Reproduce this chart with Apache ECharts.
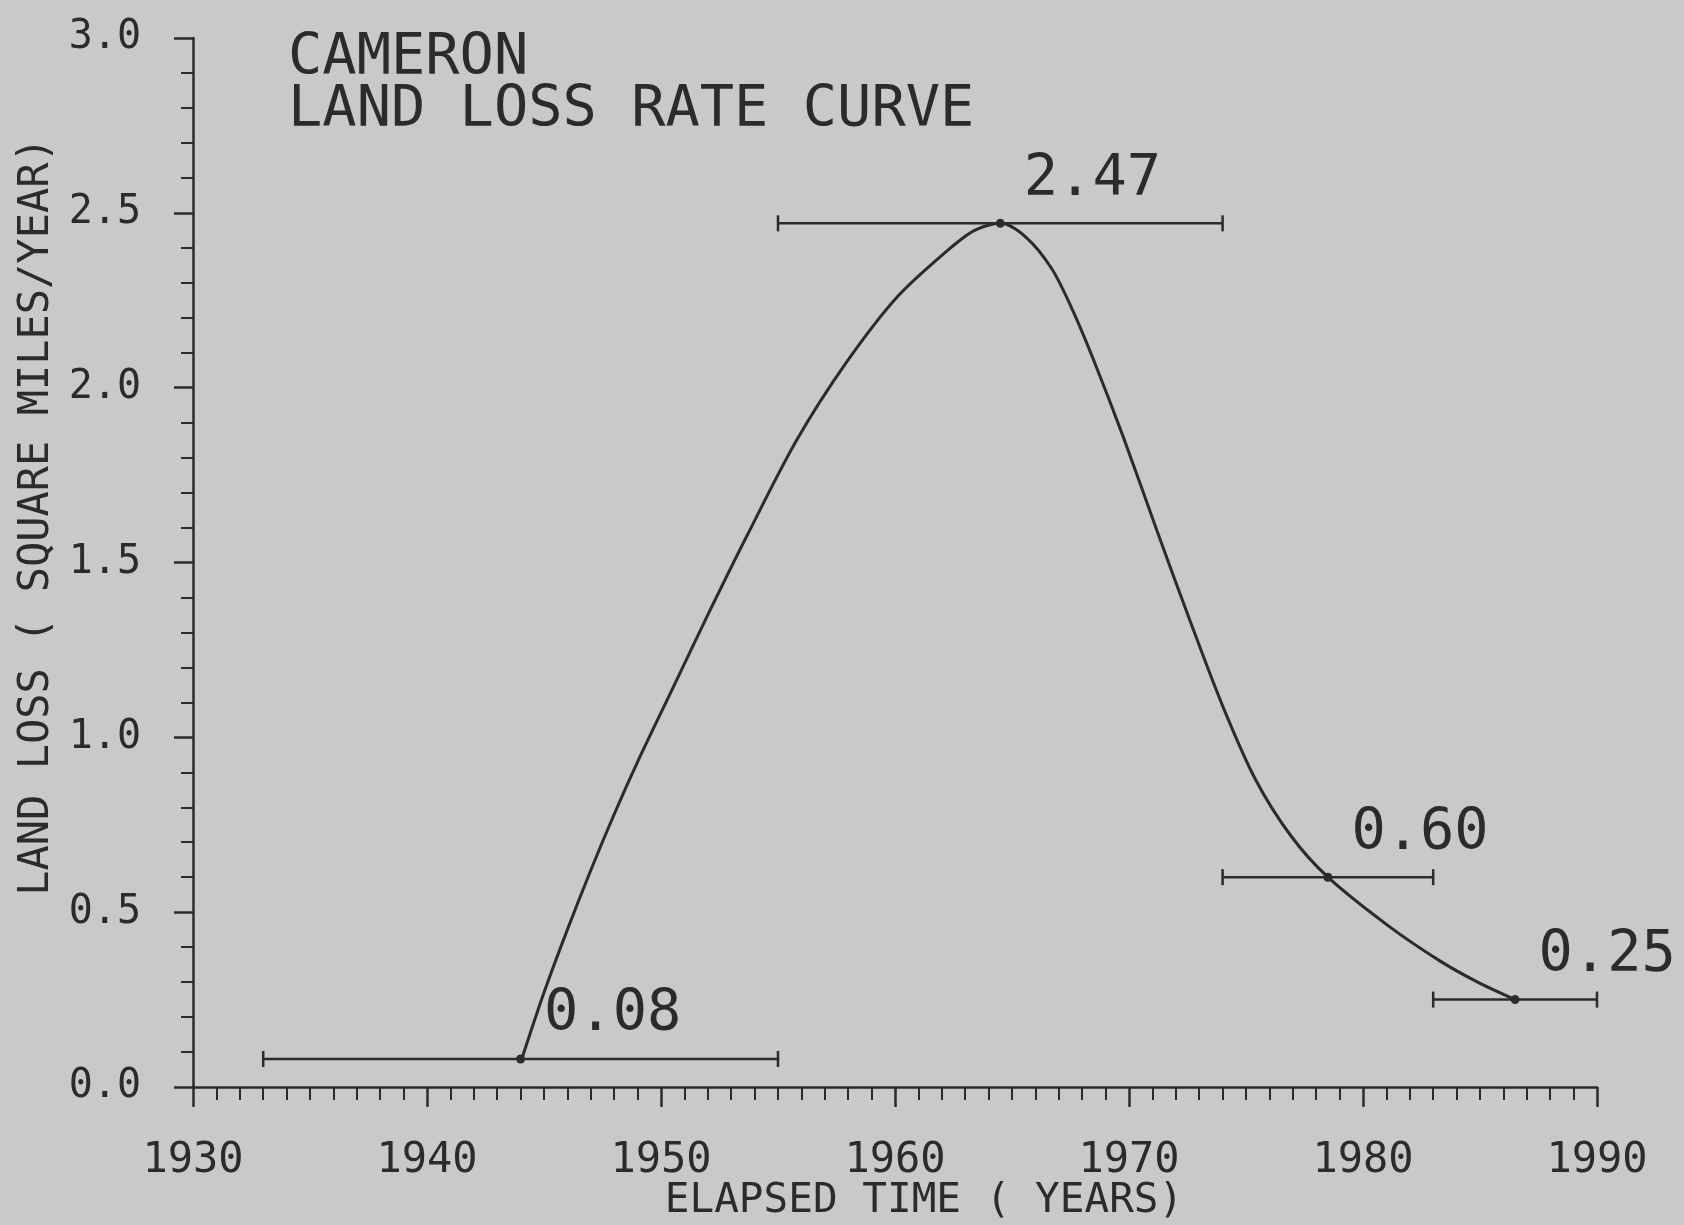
<!DOCTYPE html>
<html>
<head>
<meta charset="utf-8">
<title>Cameron land loss rate curve</title>
<script src="https://cdn.jsdelivr.net/npm/echarts@6/dist/echarts.min.js"></script>
<style>
    html, body { margin: 0; padding: 0; background: #c9c9c7; }
    #chart { width: 1684px; height: 1225px; }
</style>
</head>
<body>
<div id="chart"></div>
<script>
// measured rates: mid year, rate, and the period each one covers
var pointYears = [1944, 1964.5, 1978.5, 1986.5];
var pointRates = [0.08, 2.47, 0.60, 0.25];
var rangeStart = [1933, 1955, 1974, 1983];
var rangeEnd = [1955, 1974, 1983, 1990];

// fitted rate curve
var curveYears = [1944.05, 1945, 1946, 1947, 1948, 1949, 1950.5, 1952, 1953.7, 1955.8, 1957.9, 1960.1, 1962.2, 1963.4, 1964.5,
    1965.6, 1966.7, 1967.6, 1968.6, 1969.75, 1971.2, 1972.6, 1974.0, 1975.4, 1976.9, 1978.5, 1981.1, 1983.3, 1984.9, 1986.5];
var curveRates = [0.08, 0.27, 0.45, 0.62, 0.78, 0.93, 1.14, 1.35, 1.58, 1.85, 2.07, 2.26, 2.39, 2.45, 2.47,
    2.43, 2.34, 2.22, 2.06, 1.86, 1.59, 1.335, 1.09, 0.88, 0.72, 0.60, 0.46, 0.36, 0.30, 0.25];

// axis ticks
var xTicks = [1930, 1940, 1950, 1960, 1970, 1980, 1990];
var yTicks = [0, 0.5, 1.0, 1.5, 2.0, 2.5, 3.0];

var ink = '#2b2b2b';
var font = 'DejaVu Sans Mono';

var curveData = curveYears.map(function (y, i) { return [y, curveRates[i]]; });
var pointData = pointYears.map(function (y, i) { return [y, pointRates[i]]; });
var rangeData = rangeStart.map(function (s, i) { return [s, rangeEnd[i], pointRates[i]]; });

var chart = echarts.init(document.getElementById('chart'));
chart.setOption({
    animation: false,
    backgroundColor: '#c9c9c7',
    title: {
        text: 'CAMERON\nLAND LOSS RATE CURVE',
        left: 288,
        top: 33,
        padding: 0,
        textStyle: {
            fontFamily: font,
            fontWeight: 'normal',
            fontSize: 57,
            lineHeight: 52,
            color: ink
        }
    },
    grid: {
        left: 193,
        right: 87,
        top: 38,
        bottom: 138,
        outerBoundsMode: 'none'
    },
    xAxis: {
        type: 'value',
        min: xTicks[0],
        max: xTicks[xTicks.length - 1],
        interval: 10,
        name: 'ELAPSED TIME ( YEARS)',
        nameLocation: 'middle',
        nameGap: 94,
        nameMoveOverlap: false,
        nameTextStyle: {
            fontFamily: font,
            fontSize: 41,
            color: ink,
            padding: [0, 0, 0, 58]
        },
        axisLine: { onZero: false, lineStyle: { color: ink, width: 2.5 } },
        axisTick: { length: 20, lineStyle: { color: ink, width: 2.5 } },
        minorTick: { show: true, splitNumber: 10, length: 13, lineStyle: { color: ink, width: 2 } },
        splitLine: { show: false },
        minorSplitLine: { show: false },
        axisLabel: {
            margin: 53,
            fontFamily: font,
            fontSize: 42,
            color: ink,
            formatter: function (v) { return String(v); }
        }
    },
    yAxis: {
        type: 'value',
        min: yTicks[0],
        max: yTicks[yTicks.length - 1],
        interval: 0.5,
        name: 'LAND LOSS ( SQUARE MILES/YEAR)',
        nameLocation: 'middle',
        nameGap: 128,
        nameTextStyle: {
            fontFamily: font,
            fontSize: 42,
            color: ink,
            padding: [0, 0, 0, 92]
        },
        axisLine: { lineStyle: { color: ink, width: 2.5 } },
        axisTick: { length: 19, lineStyle: { color: ink, width: 2.5 } },
        minorTick: { show: true, splitNumber: 5, length: 12, lineStyle: { color: ink, width: 2 } },
        splitLine: { show: false },
        minorSplitLine: { show: false },
        axisLabel: {
            margin: 52,
            fontFamily: font,
            fontSize: 40,
            color: ink,
            formatter: function (v) { return v.toFixed(1); }
        }
    },
    series: [
        {
            // period each rate covers
            type: 'custom',
            data: rangeData,
            encode: { x: [0, 1], y: 2 },
            renderItem: function (params, api) {
                var y = api.value(2);
                var a = api.coord([api.value(0), y]);
                var b = api.coord([api.value(1), y]);
                var cap = 8;
                var st = { stroke: ink, lineWidth: 2.5 };
                return {
                    type: 'group',
                    children: [
                        { type: 'line', shape: { x1: a[0], y1: a[1], x2: b[0], y2: b[1] }, style: st },
                        { type: 'line', shape: { x1: a[0], y1: a[1] - cap, x2: a[0], y2: a[1] + cap }, style: st },
                        { type: 'line', shape: { x1: b[0], y1: b[1] - cap, x2: b[0], y2: b[1] + cap }, style: st }
                    ]
                };
            },
            z: 2
        },
        {
            type: 'line',
            data: curveData,
            smooth: 0.3,
            showSymbol: false,
            lineStyle: { color: ink, width: 3 },
            z: 3
        },
        {
            type: 'scatter',
            data: pointData,
            symbolSize: 9,
            itemStyle: { color: ink, opacity: 1 },
            label: {
                show: true,
                position: [28, -39],
                align: 'left',
                verticalAlign: 'middle',
                fontFamily: font,
                fontSize: 57,
                color: ink,
                formatter: function (p) { return p.value[1].toFixed(2); }
            },
            z: 4
        }
    ]
});
</script>
</body>
</html>
